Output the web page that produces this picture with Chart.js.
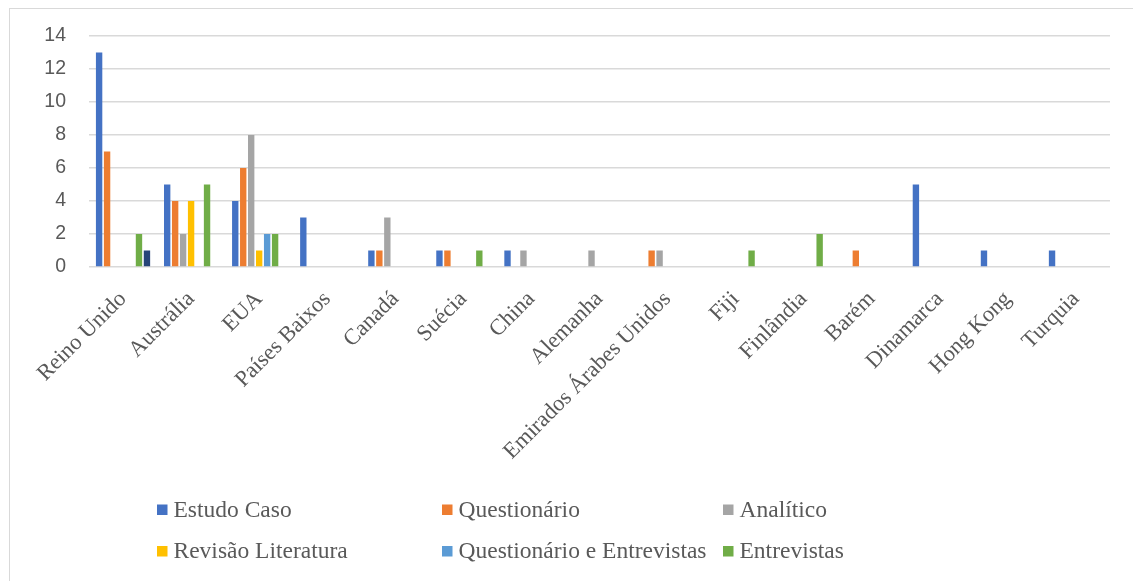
<!DOCTYPE html>
<html>
<head>
<meta charset="utf-8">
<script src="https://cdn.jsdelivr.net/npm/chart.js@4/dist/chart.umd.min.js"></script>
<style>
  html, body { margin: 0; padding: 0; background: #fff; }
  #wrap { position: relative; width: 1133px; height: 581px; overflow: hidden; }
  #frame { position: absolute; left: 9px; top: 8px; width: 1200px; height: 700px;
           border-left: 1px solid #d9d9d9; border-top: 1px solid #d9d9d9; }
  #chart { position: absolute; left: 0; top: 0; }
</style>
</head>
<body>
<div id="wrap">
  <div id="frame"></div>
  <canvas id="chart" width="1133" height="581"></canvas>
</div>
<script>
const paises = ['Reino Unido', 'Austrália', 'EUA', 'Países Baixos', 'Canadá', 'Suécia', 'China',
  'Alemanha', 'Emirados Árabes Unidos', 'Fiji', 'Finlândia', 'Barém', 'Dinamarca', 'Hong Kong', 'Turquia'];

const estudoCaso         = [13, 5, 4, 3, 1, 1, 1, 0, 0, 0, 0, 0, 5, 1, 1];
const questionario       = [7, 4, 6, 0, 1, 1, 0, 0, 1, 0, 0, 1, 0, 0, 0];
const analitico          = [0, 2, 8, 0, 3, 0, 1, 1, 1, 0, 0, 0, 0, 0, 0];
const revisaoLiteratura  = [0, 4, 1, 0, 0, 0, 0, 0, 0, 0, 0, 0, 0, 0, 0];
const questEntrevistas   = [0, 0, 2, 0, 0, 0, 0, 0, 0, 0, 0, 0, 0, 0, 0];
const entrevistas        = [2, 5, 2, 0, 0, 1, 0, 0, 0, 1, 2, 0, 0, 0, 0];
const outros             = [1, 0, 0, 0, 0, 0, 0, 0, 0, 0, 0, 0, 0, 0, 0];

const yTicks = [0, 2, 4, 6, 8, 10, 12, 14];

// the last series has no entry in the legend
const series = [
  { label: 'Estudo Caso', data: estudoCaso, color: '#4472c4' },
  { label: 'Questionário', data: questionario, color: '#ed7d31' },
  { label: 'Analítico', data: analitico, color: '#a5a5a5' },
  { label: 'Revisão Literatura', data: revisaoLiteratura, color: '#ffc000' },
  { label: 'Questionário e Entrevistas', data: questEntrevistas, color: '#5b9bd5' },
  { label: 'Entrevistas', data: entrevistas, color: '#70ad47' },
  { label: 'Outros', data: outros, color: '#264478', noLegend: true }
];

const serifFont = "'Liberation Serif', 'Times New Roman', serif";

// legend drawn on the canvas: two rows of three columns
const gridLegend = {
  id: 'gridLegend',
  afterDraw(chart) {
    const c = chart.ctx;
    const cols = [157, 442, 723];
    const rows = [509.5, 551];
    c.save();
    c.font = '23.5px ' + serifFont;
    c.textBaseline = 'middle';
    series.filter(s => !s.noLegend).forEach((s, i) => {
      const x = cols[i % 3];
      const y = rows[Math.floor(i / 3)];
      c.fillStyle = s.color;
      c.fillRect(x, y - 5, 10.5, 10.5);
      c.fillStyle = '#595959';
      c.fillText(s.label, x + 16.5, y + 1);
    });
    c.restore();
  }
};

const ctx = document.getElementById('chart').getContext('2d');
new Chart(ctx, {
  type: 'bar',
  data: {
    labels: paises,
    datasets: series.map(s => ({
      label: s.label,
      data: s.data,
      backgroundColor: s.color,
      borderWidth: 0,
      categoryPercentage: 0.82,
      barPercentage: 0.8
    }))
  },
  options: {
    responsive: false,
    animation: false,
    layout: { padding: { top: 36, right: 23, left: 0, bottom: 0 } },
    plugins: { legend: { display: false }, tooltip: { enabled: false } },
    scales: {
      x: {
        grid: { display: false, drawTicks: false },
        border: { display: false },
        ticks: {
          autoSkip: false,
          minRotation: 45,
          maxRotation: 45,
          padding: 19,
          color: '#595959',
          font: { family: serifFont, size: 22.5 }
        },
        afterFit: s => { s.height = 314; }
      },
      y: {
        min: 0,
        max: 14,
        afterBuildTicks: s => { s.ticks = yTicks.map(v => ({ value: v })); },
        grid: { color: '#d9d9d9', lineWidth: 1.5, drawTicks: false },
        border: { display: false },
        ticks: {
          padding: 23,
          color: '#595959',
          font: { family: "'Liberation Sans', Arial, sans-serif", size: 19.5 }
        },
        afterFit: s => { s.width = 89; }
      }
    }
  },
  plugins: [gridLegend]
});
</script>
</body>
</html>
